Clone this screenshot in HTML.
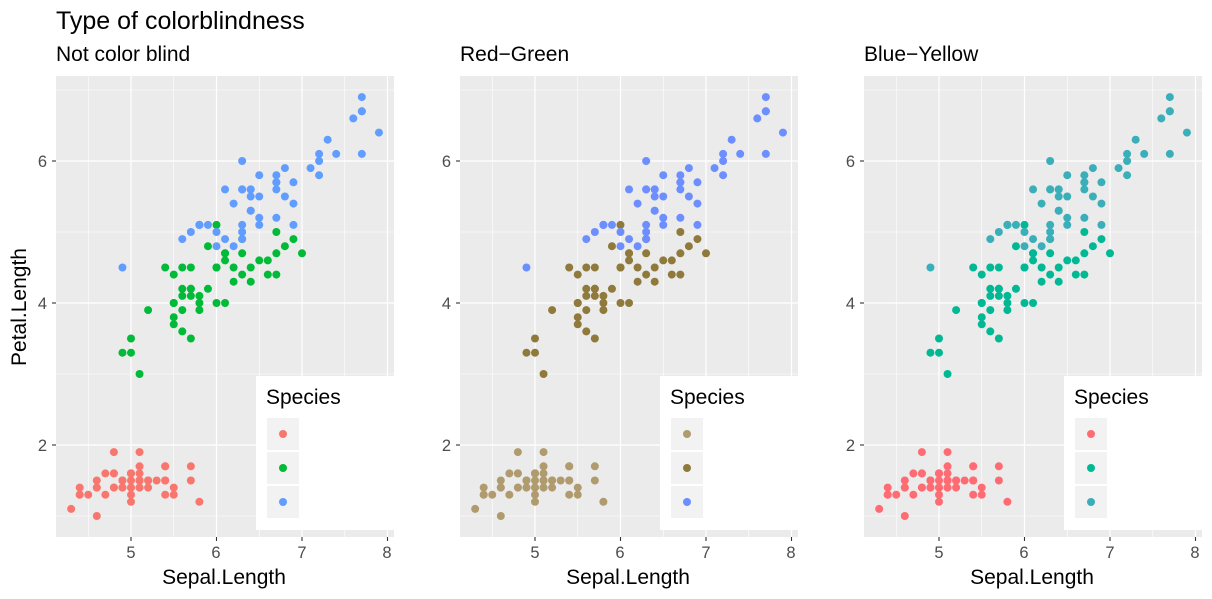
<!DOCTYPE html>
<html><head><meta charset="utf-8"><style>
body{margin:0;background:#fff;}
svg{display:block;font-family:"Liberation Sans",Arial,sans-serif;}
</style></head><body>
<svg id="s" width="1212" height="599" xmlns="http://www.w3.org/2000/svg">
<rect width="1212" height="599" fill="#fff"/>
<text x="56" y="29" font-size="25" fill="#000">Type of colorblindness</text>
<text x="56" y="61" font-size="21" fill="#000">Not color blind</text>
<text x="460" y="61" font-size="21" fill="#000">Red−Green</text>
<text x="864" y="61" font-size="21" fill="#000">Blue−Yellow</text>
<text transform="translate(26,307) rotate(-90)" text-anchor="middle" font-size="21" fill="#000">Petal.Length</text>
<g id="p0"></g><g id="p1"></g><g id="p2"></g>
<text x="224" y="584" text-anchor="middle" font-size="21">Sepal.Length</text>
<text x="628" y="584" text-anchor="middle" font-size="21">Sepal.Length</text>
<text x="1032" y="584" text-anchor="middle" font-size="21">Sepal.Length</text>
<g font-size="16.5" fill="#4d4d4d">
<text x="131" y="558" text-anchor="middle">5</text><text x="216" y="558" text-anchor="middle">6</text><text x="302" y="558" text-anchor="middle">7</text><text x="387" y="558" text-anchor="middle">8</text>
<text x="535" y="558" text-anchor="middle">5</text><text x="620" y="558" text-anchor="middle">6</text><text x="706" y="558" text-anchor="middle">7</text><text x="791" y="558" text-anchor="middle">8</text>
<text x="939" y="558" text-anchor="middle">5</text><text x="1024" y="558" text-anchor="middle">6</text><text x="1110" y="558" text-anchor="middle">7</text><text x="1195" y="558" text-anchor="middle">8</text>
<text x="47" y="167" text-anchor="end">6</text><text x="47" y="309" text-anchor="end">4</text><text x="47" y="451" text-anchor="end">2</text>
<text x="451" y="167" text-anchor="end">6</text><text x="451" y="309" text-anchor="end">4</text><text x="451" y="451" text-anchor="end">2</text>
<text x="855" y="167" text-anchor="end">6</text><text x="855" y="309" text-anchor="end">4</text><text x="855" y="451" text-anchor="end">2</text>
</g>
<g font-size="21"><text x="266" y="404">Species</text><text x="670" y="404">Species</text><text x="1074" y="404">Species</text></g>
</svg>
<script>
var se=[5.1,1.4,4.9,1.4,4.7,1.3,4.6,1.5,5.0,1.4,5.4,1.7,4.6,1.4,5.0,1.5,4.4,1.4,4.9,1.5,5.4,1.5,4.8,1.6,4.8,1.4,4.3,1.1,5.8,1.2,5.7,1.5,5.4,1.3,5.1,1.4,5.7,1.7,5.1,1.5,5.4,1.7,5.1,1.5,4.6,1.0,5.1,1.7,4.8,1.9,5.0,1.6,5.0,1.6,5.2,1.5,5.2,1.4,4.7,1.6,4.8,1.6,5.4,1.5,5.2,1.5,5.5,1.4,4.9,1.5,5.0,1.2,5.5,1.3,4.9,1.4,4.4,1.3,5.1,1.5,5.0,1.3,4.5,1.3,4.4,1.3,5.0,1.6,5.1,1.9,4.8,1.4,5.1,1.6,4.6,1.4,5.3,1.5,5.0,1.4];
var ve=[7.0,4.7,6.4,4.5,6.9,4.9,5.5,4.0,6.5,4.6,5.7,4.5,6.3,4.7,4.9,3.3,6.6,4.6,5.2,3.9,5.0,3.5,5.9,4.2,6.0,4.0,6.1,4.7,5.6,3.6,6.7,4.4,5.6,4.5,5.8,4.1,6.2,4.5,5.6,3.9,5.9,4.8,6.1,4.0,6.3,4.9,6.1,4.7,6.4,4.3,6.6,4.4,6.8,4.8,6.7,5.0,6.0,4.5,5.7,3.5,5.5,3.8,5.5,3.7,5.8,3.9,6.0,5.1,5.4,4.5,6.0,4.5,6.7,4.7,6.3,4.4,5.6,4.1,5.5,4.0,5.5,4.4,6.1,4.6,5.8,4.0,5.0,3.3,5.6,4.2,5.7,4.2,5.7,4.2,6.2,4.3,5.1,3.0,5.7,4.1];
var vi=[6.3,6.0,5.8,5.1,7.1,5.9,6.3,5.6,6.5,5.8,7.6,6.6,4.9,4.5,7.3,6.3,6.7,5.8,7.2,6.1,6.5,5.1,6.4,5.3,6.8,5.5,5.7,5.0,5.8,5.1,6.4,5.3,6.5,5.5,7.7,6.7,7.7,6.9,6.0,5.0,6.9,5.7,5.6,4.9,7.7,6.7,6.3,4.9,6.7,5.7,7.2,6.0,6.2,4.8,6.1,4.9,6.4,5.6,7.2,5.8,7.4,6.1,7.9,6.4,6.4,5.6,6.3,5.1,6.1,5.6,7.7,6.1,6.3,5.6,6.4,5.5,6.0,4.8,6.9,5.4,6.7,5.6,6.9,5.1,5.8,5.1,6.8,5.9,6.7,5.7,6.7,5.2,6.3,5.0,6.5,5.2,6.2,5.4,5.9,5.1];
var cols=[["#F8766D","#00BA38","#619CFF"],["#B09B6E","#8F7A3C","#6C8EFF"],["#FF6B72","#00B894","#3AAFB9"]];
var NS="http://www.w3.org/2000/svg";
function el(g,t,a){var e=document.createElementNS(NS,t);for(var k in a)e.setAttribute(k,a[k]);g.appendChild(e);return e;}
for(var p=0;p<3;p++){
 var g=document.getElementById("p"+p),o=p*404;
 var X=function(v){return 131+o+(v-5)*85.5;},Y=function(v){return 445-(v-2)*71;};
 el(g,"rect",{x:56+o,y:76,width:338,height:461,fill:"#EBEBEB"});
 [4.5,5.5,6.5,7.5].forEach(function(v){el(g,"line",{x1:X(v),x2:X(v),y1:76,y2:537,stroke:"#fff","stroke-width":0.6});});
 [1,3,5,7].forEach(function(v){el(g,"line",{x1:56+o,x2:394+o,y1:Y(v),y2:Y(v),stroke:"#fff","stroke-width":0.6});});
 [5,6,7,8].forEach(function(v){el(g,"line",{x1:X(v),x2:X(v),y1:76,y2:537,stroke:"#fff","stroke-width":1.2});el(g,"line",{x1:X(v),x2:X(v),y1:537,y2:541,stroke:"#333","stroke-width":1.1});});
 [2,4,6].forEach(function(v){el(g,"line",{x1:56+o,x2:394+o,y1:Y(v),y2:Y(v),stroke:"#fff","stroke-width":1.2});el(g,"line",{x1:52+o,x2:56+o,y1:Y(v),y2:Y(v),stroke:"#333","stroke-width":1.1});});
 [se,ve,vi].forEach(function(d,s){for(var i=0;i<d.length;i+=2)el(g,"circle",{cx:X(d[i]),cy:Y(d[i+1]),r:4,fill:cols[p][s]});});
 el(g,"rect",{x:256+o,y:376,width:141,height:154,fill:"#fff"});
 for(var s=0;s<3;s++){el(g,"rect",{x:267+o,y:418+s*34,width:32,height:32,fill:"#F2F2F2"});el(g,"circle",{cx:283+o,cy:434+s*34,r:4,fill:cols[p][s]});}
}
</script>
</body></html>
